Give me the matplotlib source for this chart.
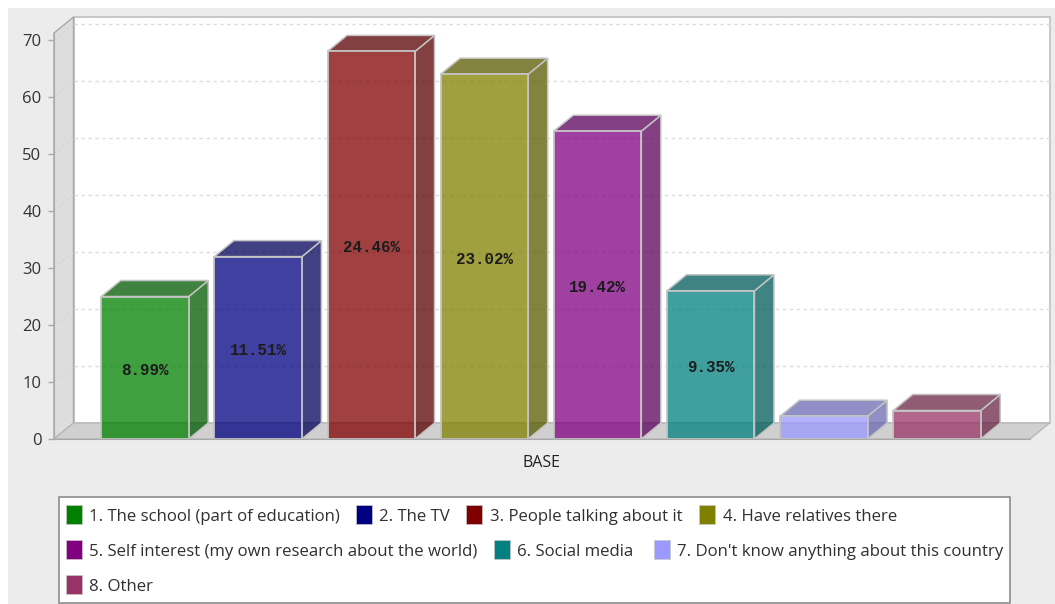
import matplotlib
matplotlib.use("Agg")
import matplotlib.pyplot as plt
from matplotlib.colors import to_rgb
from matplotlib.patches import Rectangle

# counts per answer (sum = 278), labels are share of total
names = ["1. The school (part of education)", "2. The TV", "3. People talking about it",
         "4. Have relatives there", "5. Self interest (my own research about the world)",
         "6. Social media", "7. Don't know anything about this country", "8. Other"]
counts = [25, 32, 68, 64, 54, 26, 4, 5]
pct_labels = ["8.99%", "11.51%", "24.46%", "23.02%", "19.42%", "9.35%", "", ""]
colors = ["#008000", "#000080", "#800000", "#808000", "#800080", "#008080", "#9999ff", "#993366"]
yticks = [0, 10, 20, 30, 40, 50, 60, 70]

# legend flow layout in pixels: swatch x, text x, row y centre
legend_swatch_x = [66, 356, 466, 699, 66, 494, 654, 66]
legend_text_x = [89, 379, 490, 723, 89, 517, 677, 89]
legend_y = [515, 515, 515, 515, 550, 550, 550, 585]

W, H = 1055, 604
FONT = "Open Sans"
ALPHA = 0.75
EDGE = "#c4c4c4"
GRID = "#dcdcdc"
AXIS = "#a8a8a8"

fig = plt.figure(figsize=(W / 100, H / 100), dpi=100, facecolor="white")

# full figure overlay in pixel coords, for panel and legend
bg = fig.add_axes([0, 0, 1, 1], zorder=0)
bg.set_xlim(0, W)
bg.set_ylim(H, 0)
bg.axis("off")
bg.add_patch(Rectangle((8, 8), W - 8, H - 8, fc="#ececec", ec="none"))

left, right, y0_px, top_px = 54, 1030, 439, 33
px_per_unit = 5.7
ax = fig.add_axes([left / W, 1 - y0_px / H, (right - left) / W, (y0_px - top_px) / H], zorder=1)
ax.patch.set_visible(False)

spacing = 113.14
xmin = -(145 - left) / spacing
xmax = (right - 145) / spacing
ymax = (y0_px - top_px) / px_per_unit
dx = 19.5 / spacing
dy = 16 / px_per_unit
width = 87.5 / spacing
ax.set_xlim(xmin, xmax)
ax.set_ylim(0, ymax)

# walls
ax.fill([xmin + dx, xmax + dx, xmax + dx, xmin + dx], [dy, dy, ymax + dy, ymax + dy],
        fc="white", ec="#c0c0c0", lw=1.2, clip_on=False, zorder=1)
ax.fill([xmin, xmin + dx, xmin + dx, xmin], [0, dy, ymax + dy, ymax],
        fc="#dddddd", ec=AXIS, lw=1.0, clip_on=False, zorder=1.5)
ax.fill([xmin, xmax, xmax + dx, xmin + dx], [0, 0, dy, dy],
        fc="#d0d0d0", ec="#b8b8b8", lw=1.0, clip_on=False, zorder=1.5)

# grid on back wall and side wall
for v in yticks[1:]:
    ax.plot([xmin + dx, xmax + dx], [v + dy, v + dy], color=GRID, lw=1, ls=(0, (2.5, 2.5)),
            clip_on=False, zorder=2)
    ax.plot([xmin, xmin + dx], [v, v + dy], color="#d4d4d4", lw=0.8, ls=(0, (2.5, 2.5)),
            clip_on=False, zorder=2)

for i, (v, c) in enumerate(zip(counts, colors)):
    dark = tuple(x * 0.7 for x in to_rgb(c)) + (ALPHA,)
    r = i + width / 2
    l = i - width / 2
    ax.fill([r, r + dx, r + dx, r], [0, dy, v + dy, v], fc=dark, ec=EDGE, lw=1.1, zorder=4)
    ax.fill([l, r, r + dx, l + dx], [v, v, v + dy, v + dy], fc=dark, ec=EDGE, lw=1.1, zorder=4)

ax.bar(range(len(counts)), counts, width=width,
       color=[to_rgb(c) + (ALPHA,) for c in colors], edgecolor=EDGE, linewidth=1.3, zorder=5)

for i, (v, s) in enumerate(zip(counts, pct_labels)):
    if s:
        ax.annotate(s, (i, v / 2), xytext=(0, -2), textcoords="offset points",
                    ha="center", va="center", fontsize=11.4, fontweight="bold",
                    family="Liberation Mono", color="#1c1c1c", zorder=10)

for s in ["top", "right"]:
    ax.spines[s].set_visible(False)
for s in ["left", "bottom"]:
    ax.spines[s].set_color(AXIS)
    ax.spines[s].set_zorder(6)
ax.set_xticks([])
ax.set_yticks(yticks)
ax.tick_params(axis="y", length=4, width=1, color=AXIS, labelsize=12, labelcolor="#333333", pad=5)
for t in ax.get_yticklabels():
    t.set_family(FONT)
ax.text((xmin + xmax) / 2, -24 / px_per_unit, "BASE", ha="center", va="center",
        fontsize=11.5, family=FONT, color="#222222")

# legend box
lg = fig.add_axes([0, 0, 1, 1], zorder=2)
lg.set_xlim(0, W)
lg.set_ylim(H, 0)
lg.axis("off")
lg.add_patch(Rectangle((58.5, 497), 951.5, 106, fc="white", ec="#8c8c8c", lw=1.2))
for name, c, sx, tx, yy in zip(names, colors, legend_swatch_x, legend_text_x, legend_y):
    lg.add_patch(Rectangle((sx, yy - 10), 16, 19, fc=c, ec="#c8c8c8", lw=0.5))
    lg.text(tx, yy + 2, name, ha="left", va="center", fontsize=12.1, family=FONT, color="#303030")

fig.savefig("out.png", dpi=100, facecolor=fig.get_facecolor())
